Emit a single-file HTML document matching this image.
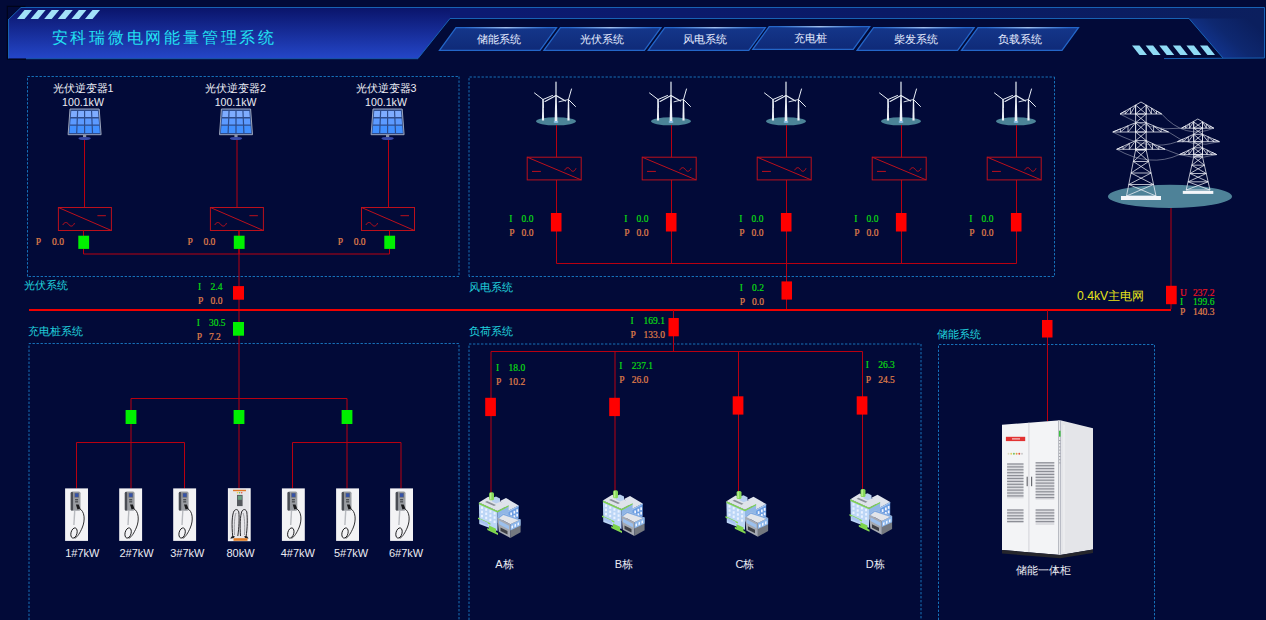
<!DOCTYPE html>
<html><head><meta charset="utf-8">
<style>
html,body{margin:0;padding:0;background:#020a38;width:1266px;height:620px;overflow:hidden}
svg{display:block;position:absolute;left:0;top:0}
text{font-family:"Liberation Sans",sans-serif}
.s{font-family:"Liberation Serif",serif}
.lbl{fill:#ececf4;font-size:11px}
.sys{fill:#20d2de;font-size:10.7px}
.g{fill:#0cdc12;stroke:#0cdc12;stroke-width:0.2}
.o{fill:#e0804a;stroke:#e0804a;stroke-width:0.2}
.r{fill:#ec1420;stroke:#ec1420;stroke-width:0.2}
.ln{stroke:#b80010;stroke-width:1;fill:none}
.box{stroke:#bc101c;stroke-width:1;fill:none}
.dash{stroke:#1670b8;stroke-width:1;fill:none;stroke-dasharray:2.4 1.6}
.brk{fill:#ff0000}
.grn{fill:#00f000}
</style></head>
<body>
<svg width="1266" height="620" viewBox="0 0 1266 620">
<defs>
<linearGradient id="hdrL" x1="0" y1="0" x2="0" y2="1">
<stop offset="0" stop-color="#0a146a"/><stop offset="1" stop-color="#2446c8"/>
</linearGradient>
<linearGradient id="band" x1="0" y1="0" x2="1" y2="0">
<stop offset="0" stop-color="#0c1874"/><stop offset="0.36" stop-color="#0c1a72"/><stop offset="0.7" stop-color="#0a1a66"/><stop offset="1" stop-color="#0b1f5e"/>
</linearGradient>
<linearGradient id="hdrR" gradientUnits="userSpaceOnUse" x1="1205" y1="60" x2="1245" y2="16">
<stop offset="0" stop-color="#143a9e"/><stop offset="0.55" stop-color="#0e2870"/><stop offset="1" stop-color="#0b1f5e"/>
</linearGradient>
<linearGradient id="tab" x1="0" y1="0" x2="0" y2="1">
<stop offset="0" stop-color="#14368a"/><stop offset="1" stop-color="#0f2a78"/>
</linearGradient>
<linearGradient id="glint" x1="0" y1="0" x2="1" y2="0">
<stop offset="0" stop-color="#8ab8f0" stop-opacity="0"/><stop offset="0.5" stop-color="#c8dcf8" stop-opacity="0.85"/><stop offset="1" stop-color="#8ab8f0" stop-opacity="0"/>
</linearGradient>
</defs>

<path d="M450 18.5 L1189 18.5 L1223 58 L1265 58 L1265 7.5 L21 7.5 Z" fill="url(#band)"/>
<path d="M1189 18.5 L1223 58 L1265 58 L1265 18.5 Z" fill="url(#hdrR)"/>
<path d="M8 20 L21 7.5 L450 7.5 L450 18.5 L418 58.5 L8 58.5 Z" fill="url(#hdrL)"/>
<path d="M8 20 L21 7.5 L1264.5 7.5 L1264.5 58 L1164 58.6" stroke="#1862b4" stroke-width="1" fill="none"/>
<path d="M7.3 59.3 L7.3 6.4 L25.5 6.4 M7.3 59.3 L26 59.3" stroke="#000418" stroke-width="1.1" fill="none"/>
<path d="M8.6 20 L8.6 58.3" stroke="#1a66b4" stroke-width="1" fill="none"/>
<path d="M418 58.5 L450 18.5 L1189 18.5 L1223 58" stroke="#1862b4" stroke-width="1" fill="none"/>
<path d="M26 58.7 L418 58.7" stroke="#1a5cb0" stroke-width="1" fill="none"/>
<g fill="#a2e2f8"><path d="M17.0 19 L24.5 19 L32.0 10 L24.5 10Z"/><path d="M30.6 19 L38.1 19 L45.6 10 L38.1 10Z"/><path d="M44.2 19 L51.7 19 L59.2 10 L51.7 10Z"/><path d="M57.8 19 L65.3 19 L72.8 10 L65.3 10Z"/><path d="M71.4 19 L78.9 19 L86.4 10 L78.9 10Z"/><path d="M85.0 19 L92.5 19 L100.0 10 L92.5 10Z"/></g><g fill="#8fdcf6"><path d="M1132.0 45.5 L1139.5 45.5 L1147.0 55 L1139.5 55Z"/><path d="M1145.6 45.5 L1153.1 45.5 L1160.6 55 L1153.1 55Z"/><path d="M1159.2 45.5 L1166.7 45.5 L1174.2 55 L1166.7 55Z"/><path d="M1172.8 45.5 L1180.3 45.5 L1187.8 55 L1180.3 55Z"/><path d="M1186.4 45.5 L1193.9 45.5 L1201.4 55 L1193.9 55Z"/><path d="M1200.0 45.5 L1207.5 45.5 L1215.0 55 L1207.5 55Z"/></g>
<text x="51.5" y="43" font-size="16.3" fill="#22e2f2" letter-spacing="2.78" style="font-family:'Liberation Serif',serif">安科瑞微电网能量管理系统</text>
<g stroke="#2466c8" stroke-width="1.3" fill="url(#tab)"><path d="M456.0 27.7 L556.5 27.7 L540.0 50.4 L439.5 50.4Z"/><path d="M560.4 27.7 L660.9 27.7 L644.4 50.4 L543.9 50.4Z"/><path d="M664.8 27.7 L765.3 27.7 L748.8 50.4 L648.3 50.4Z"/><path d="M769.2 26.7 L869.7 26.7 L853.2 49.4 L752.7 49.4Z"/><path d="M873.6 27.7 L974.1 27.7 L957.6 50.4 L857.1 50.4Z"/><path d="M978.0 27.7 L1078.5 27.7 L1062.0 50.4 L961.5 50.4Z"/></g><g fill="url(#glint)"><rect x="464.0" y="27.1" width="84" height="1.3"/><rect x="568.4" y="27.1" width="84" height="1.3"/><rect x="672.8" y="27.1" width="84" height="1.3"/><rect x="777.2" y="26.1" width="84" height="1.3"/><rect x="881.6" y="27.1" width="84" height="1.3"/><rect x="986.0" y="27.1" width="84" height="1.3"/></g><g font-size="11" fill="#e6ecff" text-anchor="middle"><text x="498.8" y="43">储能系统</text><text x="601.8" y="43">光伏系统</text><text x="705.4" y="43">风电系统</text><text x="810.2" y="42">充电桩</text><text x="915.8" y="43">柴发系统</text><text x="1020.0" y="43">负载系统</text></g>
<path class="dash" d="M27.5 276.5 L27.5 76.5 L459 76.5 M459 76.5 L459 276.5 L27.5 276.5"/>
<path class="dash" d="M469 276.5 L469 77 L1054.5 77 M1054.5 77 L1054.5 276.5 L469 276.5"/>
<path class="dash" d="M29 640 L29 343.5 L459 343.5 L459 640"/>
<path class="dash" d="M469 640 L469 344 L921 344 L921 640"/>
<path class="dash" d="M938.5 640 L938.5 344.5 L1154.5 344.5 L1154.5 640"/>
<path class="ln" d="M239 230.5 L239 398.5"/>
<text class="lbl" x="83" y="91.8" text-anchor="middle" style="font-size:10.7px">光伏逆变器1</text><text class="lbl" x="83" y="105.5" text-anchor="middle" style="font-size:10.6px">100.1kW</text><g><path d="M70.00 109 L99.20 109 L101.10 134.7 L68.10 134.7Z" fill="#2e4c8c" stroke="#aab2c4" stroke-width="0.9" stroke-linejoin="round"/><path d="M71.30 111.0 L77.05 111.0 L76.79 117.0 L70.78 117.0Z" fill="#7eacff"/><path d="M78.25 111.0 L84.00 111.0 L84.00 117.0 L77.99 117.0Z" fill="#7eacff"/><path d="M85.20 111.0 L90.95 111.0 L91.21 117.0 L85.20 117.0Z" fill="#7eacff"/><path d="M92.15 111.0 L97.90 111.0 L98.42 117.0 L92.41 117.0Z" fill="#7eacff"/><path d="M70.65 118.6 L76.72 118.6 L76.47 124.6 L70.13 124.6Z" fill="#5c9aff"/><path d="M77.92 118.6 L84.00 118.6 L84.00 124.6 L77.67 124.6Z" fill="#5c9aff"/><path d="M85.20 118.6 L91.28 118.6 L91.53 124.6 L85.20 124.6Z" fill="#5c9aff"/><path d="M92.48 118.6 L98.55 118.6 L99.07 124.6 L92.73 124.6Z" fill="#5c9aff"/><path d="M70.03 125.8 L76.41 125.8 L76.10 133.1 L69.40 133.1Z" fill="#4290ff"/><path d="M77.61 125.8 L84.00 125.8 L84.00 133.1 L77.30 133.1Z" fill="#4290ff"/><path d="M85.20 125.8 L91.59 125.8 L91.90 133.1 L85.20 133.1Z" fill="#4290ff"/><path d="M92.79 125.8 L99.17 125.8 L99.80 133.1 L93.10 133.1Z" fill="#4290ff"/><rect x="83.00" y="134.8" width="3.2" height="2.4" fill="#8a94aa"/><ellipse cx="84.60" cy="138.5" rx="6.2" ry="1.6" fill="#3a4aa8"/></g><path class="ln" d="M84.5 140 L84.5 207.5"/><rect class="box" x="58.400000000000006" y="207.5" width="53" height="23"/><path class="box" d="M58.400000000000006 207.5 L111.4 230.5"/><path class="box" d="M97.4 215.7 L105.9 215.7"/><path class="box" d="M62.800000000000004 225.0 C64.4 221.8 66.9 221.8 68.60000000000001 224.3 S72.9 226.9 74.5 223.1"/><path class="ln" d="M83.5 230.5 L83.5 254"/><rect class="grn" x="78.3" y="235.7" width="10.8" height="13.2"/><text class="s o" x="35.8" y="245" font-size="9.5">P</text><text class="s o" x="52" y="245" font-size="9.5">0.0</text><text class="lbl" x="235.6" y="91.8" text-anchor="middle" style="font-size:10.7px">光伏逆变器2</text><text class="lbl" x="235.6" y="105.5" text-anchor="middle" style="font-size:10.6px">100.1kW</text><g><path d="M221.40 109 L250.60 109 L252.50 134.7 L219.50 134.7Z" fill="#2e4c8c" stroke="#aab2c4" stroke-width="0.9" stroke-linejoin="round"/><path d="M222.70 111.0 L228.45 111.0 L228.19 117.0 L222.18 117.0Z" fill="#7eacff"/><path d="M229.65 111.0 L235.40 111.0 L235.40 117.0 L229.39 117.0Z" fill="#7eacff"/><path d="M236.60 111.0 L242.35 111.0 L242.61 117.0 L236.60 117.0Z" fill="#7eacff"/><path d="M243.55 111.0 L249.30 111.0 L249.82 117.0 L243.81 117.0Z" fill="#7eacff"/><path d="M222.05 118.6 L228.12 118.6 L227.87 124.6 L221.53 124.6Z" fill="#5c9aff"/><path d="M229.32 118.6 L235.40 118.6 L235.40 124.6 L229.07 124.6Z" fill="#5c9aff"/><path d="M236.60 118.6 L242.68 118.6 L242.93 124.6 L236.60 124.6Z" fill="#5c9aff"/><path d="M243.88 118.6 L249.95 118.6 L250.47 124.6 L244.13 124.6Z" fill="#5c9aff"/><path d="M221.43 125.8 L227.81 125.8 L227.50 133.1 L220.80 133.1Z" fill="#4290ff"/><path d="M229.01 125.8 L235.40 125.8 L235.40 133.1 L228.70 133.1Z" fill="#4290ff"/><path d="M236.60 125.8 L242.99 125.8 L243.30 133.1 L236.60 133.1Z" fill="#4290ff"/><path d="M244.19 125.8 L250.57 125.8 L251.20 133.1 L244.50 133.1Z" fill="#4290ff"/><rect x="234.40" y="134.8" width="3.2" height="2.4" fill="#8a94aa"/><ellipse cx="236.00" cy="138.5" rx="6.2" ry="1.6" fill="#3a4aa8"/></g><path class="ln" d="M237 140 L237 207.5"/><rect class="box" x="210.4" y="207.5" width="53" height="23"/><path class="box" d="M210.4 207.5 L263.4 230.5"/><path class="box" d="M249.4 215.7 L257.9 215.7"/><path class="box" d="M214.8 225.0 C216.4 221.8 218.9 221.8 220.6 224.3 S224.9 226.9 226.5 223.1"/><path class="ln" d="M239 230.5 L239 254"/><rect class="grn" x="233.8" y="235.7" width="10.8" height="13.2"/><text class="s o" x="187.5" y="245" font-size="9.5">P</text><text class="s o" x="203.4" y="245" font-size="9.5">0.0</text><text class="lbl" x="386" y="91.8" text-anchor="middle" style="font-size:10.7px">光伏逆变器3</text><text class="lbl" x="386" y="105.5" text-anchor="middle" style="font-size:10.6px">100.1kW</text><g><path d="M373.00 109 L402.20 109 L404.10 134.7 L371.10 134.7Z" fill="#2e4c8c" stroke="#aab2c4" stroke-width="0.9" stroke-linejoin="round"/><path d="M374.30 111.0 L380.05 111.0 L379.79 117.0 L373.78 117.0Z" fill="#7eacff"/><path d="M381.25 111.0 L387.00 111.0 L387.00 117.0 L380.99 117.0Z" fill="#7eacff"/><path d="M388.20 111.0 L393.95 111.0 L394.21 117.0 L388.20 117.0Z" fill="#7eacff"/><path d="M395.15 111.0 L400.90 111.0 L401.42 117.0 L395.41 117.0Z" fill="#7eacff"/><path d="M373.65 118.6 L379.72 118.6 L379.47 124.6 L373.13 124.6Z" fill="#5c9aff"/><path d="M380.92 118.6 L387.00 118.6 L387.00 124.6 L380.67 124.6Z" fill="#5c9aff"/><path d="M388.20 118.6 L394.28 118.6 L394.53 124.6 L388.20 124.6Z" fill="#5c9aff"/><path d="M395.48 118.6 L401.55 118.6 L402.07 124.6 L395.73 124.6Z" fill="#5c9aff"/><path d="M373.03 125.8 L379.41 125.8 L379.10 133.1 L372.40 133.1Z" fill="#4290ff"/><path d="M380.61 125.8 L387.00 125.8 L387.00 133.1 L380.30 133.1Z" fill="#4290ff"/><path d="M388.20 125.8 L394.59 125.8 L394.90 133.1 L388.20 133.1Z" fill="#4290ff"/><path d="M395.79 125.8 L402.17 125.8 L402.80 133.1 L396.10 133.1Z" fill="#4290ff"/><rect x="386.00" y="134.8" width="3.2" height="2.4" fill="#8a94aa"/><ellipse cx="387.60" cy="138.5" rx="6.2" ry="1.6" fill="#3a4aa8"/></g><path class="ln" d="M388.5 140 L388.5 207.5"/><rect class="box" x="361.5" y="207.5" width="53" height="23"/><path class="box" d="M361.5 207.5 L414.5 230.5"/><path class="box" d="M400.5 215.7 L409.0 215.7"/><path class="box" d="M365.9 225.0 C367.5 221.8 370.0 221.8 371.7 224.3 S376.0 226.9 377.6 223.1"/><path class="ln" d="M389.5 230.5 L389.5 254"/><rect class="grn" x="384.3" y="235.7" width="10.8" height="13.2"/><text class="s o" x="337.8" y="245" font-size="9.5">P</text><text class="s o" x="353.7" y="245" font-size="9.5">0.0</text><path class="ln" d="M83.5 254 L389.5 254"/>
<g><ellipse cx="556.0" cy="121.3" rx="20" ry="4" fill="#4b8397"/><path d="M541.9 120.5 L542.4 99.5 L543.6 99.5 L544.1 120.5Z" fill="#eef2f8"/><path d="M543.0 99.5 L534.5 93" stroke="#e8eef6" stroke-width="1.0" stroke-linecap="round"/><path d="M543.0 99.5 L552.5 95.5" stroke="#e8eef6" stroke-width="1.0" stroke-linecap="round"/><path d="M543.0 99.5 L543.5 107.5" stroke="#e8eef6" stroke-width="0.9" stroke-linecap="round"/><path d="M567.4 120.5 L567.9 99.5 L569.1 99.5 L569.6 120.5Z" fill="#eef2f8"/><path d="M568.5 99.5 L571.5 89" stroke="#e8eef6" stroke-width="1.0" stroke-linecap="round"/><path d="M568.5 99.5 L575.5 106.5" stroke="#e8eef6" stroke-width="1.0" stroke-linecap="round"/><path d="M568.5 99.5 L559.0 101.8" stroke="#e8eef6" stroke-width="0.9" stroke-linecap="round"/><path d="M554.6 122 L555.3 95.5 L556.7 95.5 L557.4 122Z" fill="#eef2f8"/><path d="M556.0 95.5 L556.0 82" stroke="#e8eef6" stroke-width="1.2" stroke-linecap="round"/><path d="M556.0 95.5 L545.0 101.5" stroke="#e8eef6" stroke-width="1.1" stroke-linecap="round"/><path d="M556.0 95.5 L565.5 101" stroke="#e8eef6" stroke-width="1.1" stroke-linecap="round"/><ellipse cx="556.0" cy="122" rx="2.5" ry="1" fill="#8ac0e8"/></g><path class="ln" d="M556.5 125 L556.5 157.2 M556.5 180 L556.5 263.5"/><rect class="box" x="527.2" y="157.2" width="54" height="22.7"/><path class="box" d="M527.2 157.2 L581.2 179.89999999999998"/><path class="box" d="M532.0 171.39999999999998 L540.9000000000001 171.39999999999998"/><path class="box" d="M564.7 170.2 C566.3000000000001 167.0 568.8000000000001 167.0 570.4000000000001 169.5 S574.4000000000001 172.1 576.0 168.29999999999998"/><rect class="brk" x="550.9" y="213" width="10.6" height="18.5"/><text class="s g" x="509.3" y="222.4" font-size="9.5">I</text><text class="s g" x="521.5" y="222.4" font-size="9.5">0.0</text><text class="s o" x="509.3" y="236.1" font-size="9.5">P</text><text class="s o" x="521.5" y="236.1" font-size="9.5">0.0</text><g><ellipse cx="671.0" cy="121.3" rx="20" ry="4" fill="#4b8397"/><path d="M656.9 120.5 L657.4 99.5 L658.6 99.5 L659.1 120.5Z" fill="#eef2f8"/><path d="M658.0 99.5 L649.5 93" stroke="#e8eef6" stroke-width="1.0" stroke-linecap="round"/><path d="M658.0 99.5 L667.5 95.5" stroke="#e8eef6" stroke-width="1.0" stroke-linecap="round"/><path d="M658.0 99.5 L658.5 107.5" stroke="#e8eef6" stroke-width="0.9" stroke-linecap="round"/><path d="M682.4 120.5 L682.9 99.5 L684.1 99.5 L684.6 120.5Z" fill="#eef2f8"/><path d="M683.5 99.5 L686.5 89" stroke="#e8eef6" stroke-width="1.0" stroke-linecap="round"/><path d="M683.5 99.5 L690.5 106.5" stroke="#e8eef6" stroke-width="1.0" stroke-linecap="round"/><path d="M683.5 99.5 L674.0 101.8" stroke="#e8eef6" stroke-width="0.9" stroke-linecap="round"/><path d="M669.6 122 L670.3 95.5 L671.7 95.5 L672.4 122Z" fill="#eef2f8"/><path d="M671.0 95.5 L671.0 82" stroke="#e8eef6" stroke-width="1.2" stroke-linecap="round"/><path d="M671.0 95.5 L660.0 101.5" stroke="#e8eef6" stroke-width="1.1" stroke-linecap="round"/><path d="M671.0 95.5 L680.5 101" stroke="#e8eef6" stroke-width="1.1" stroke-linecap="round"/><ellipse cx="671.0" cy="122" rx="2.5" ry="1" fill="#8ac0e8"/></g><path class="ln" d="M671.5 125 L671.5 157.2 M671.5 180 L671.5 263.5"/><rect class="box" x="642.2" y="157.2" width="54" height="22.7"/><path class="box" d="M642.2 157.2 L696.2 179.89999999999998"/><path class="box" d="M647.0 171.39999999999998 L655.9000000000001 171.39999999999998"/><path class="box" d="M679.7 170.2 C681.3000000000001 167.0 683.8000000000001 167.0 685.4000000000001 169.5 S689.4000000000001 172.1 691.0 168.29999999999998"/><rect class="brk" x="665.9" y="213" width="10.6" height="18.5"/><text class="s g" x="624.3" y="222.4" font-size="9.5">I</text><text class="s g" x="636.5" y="222.4" font-size="9.5">0.0</text><text class="s o" x="624.3" y="236.1" font-size="9.5">P</text><text class="s o" x="636.5" y="236.1" font-size="9.5">0.0</text><g><ellipse cx="786.0" cy="121.3" rx="20" ry="4" fill="#4b8397"/><path d="M771.9 120.5 L772.4 99.5 L773.6 99.5 L774.1 120.5Z" fill="#eef2f8"/><path d="M773.0 99.5 L764.5 93" stroke="#e8eef6" stroke-width="1.0" stroke-linecap="round"/><path d="M773.0 99.5 L782.5 95.5" stroke="#e8eef6" stroke-width="1.0" stroke-linecap="round"/><path d="M773.0 99.5 L773.5 107.5" stroke="#e8eef6" stroke-width="0.9" stroke-linecap="round"/><path d="M797.4 120.5 L797.9 99.5 L799.1 99.5 L799.6 120.5Z" fill="#eef2f8"/><path d="M798.5 99.5 L801.5 89" stroke="#e8eef6" stroke-width="1.0" stroke-linecap="round"/><path d="M798.5 99.5 L805.5 106.5" stroke="#e8eef6" stroke-width="1.0" stroke-linecap="round"/><path d="M798.5 99.5 L789.0 101.8" stroke="#e8eef6" stroke-width="0.9" stroke-linecap="round"/><path d="M784.6 122 L785.3 95.5 L786.7 95.5 L787.4 122Z" fill="#eef2f8"/><path d="M786.0 95.5 L786.0 82" stroke="#e8eef6" stroke-width="1.2" stroke-linecap="round"/><path d="M786.0 95.5 L775.0 101.5" stroke="#e8eef6" stroke-width="1.1" stroke-linecap="round"/><path d="M786.0 95.5 L795.5 101" stroke="#e8eef6" stroke-width="1.1" stroke-linecap="round"/><ellipse cx="786.0" cy="122" rx="2.5" ry="1" fill="#8ac0e8"/></g><path class="ln" d="M786.5 125 L786.5 157.2 M786.5 180 L786.5 263.5"/><rect class="box" x="757.2" y="157.2" width="54" height="22.7"/><path class="box" d="M757.2 157.2 L811.2 179.89999999999998"/><path class="box" d="M762.0 171.39999999999998 L770.9000000000001 171.39999999999998"/><path class="box" d="M794.7 170.2 C796.3000000000001 167.0 798.8000000000001 167.0 800.4000000000001 169.5 S804.4000000000001 172.1 806.0 168.29999999999998"/><rect class="brk" x="780.9" y="213" width="10.6" height="18.5"/><text class="s g" x="739.3" y="222.4" font-size="9.5">I</text><text class="s g" x="751.5" y="222.4" font-size="9.5">0.0</text><text class="s o" x="739.3" y="236.1" font-size="9.5">P</text><text class="s o" x="751.5" y="236.1" font-size="9.5">0.0</text><g><ellipse cx="901.0" cy="121.3" rx="20" ry="4" fill="#4b8397"/><path d="M886.9 120.5 L887.4 99.5 L888.6 99.5 L889.1 120.5Z" fill="#eef2f8"/><path d="M888.0 99.5 L879.5 93" stroke="#e8eef6" stroke-width="1.0" stroke-linecap="round"/><path d="M888.0 99.5 L897.5 95.5" stroke="#e8eef6" stroke-width="1.0" stroke-linecap="round"/><path d="M888.0 99.5 L888.5 107.5" stroke="#e8eef6" stroke-width="0.9" stroke-linecap="round"/><path d="M912.4 120.5 L912.9 99.5 L914.1 99.5 L914.6 120.5Z" fill="#eef2f8"/><path d="M913.5 99.5 L916.5 89" stroke="#e8eef6" stroke-width="1.0" stroke-linecap="round"/><path d="M913.5 99.5 L920.5 106.5" stroke="#e8eef6" stroke-width="1.0" stroke-linecap="round"/><path d="M913.5 99.5 L904.0 101.8" stroke="#e8eef6" stroke-width="0.9" stroke-linecap="round"/><path d="M899.6 122 L900.3 95.5 L901.7 95.5 L902.4 122Z" fill="#eef2f8"/><path d="M901.0 95.5 L901.0 82" stroke="#e8eef6" stroke-width="1.2" stroke-linecap="round"/><path d="M901.0 95.5 L890.0 101.5" stroke="#e8eef6" stroke-width="1.1" stroke-linecap="round"/><path d="M901.0 95.5 L910.5 101" stroke="#e8eef6" stroke-width="1.1" stroke-linecap="round"/><ellipse cx="901.0" cy="122" rx="2.5" ry="1" fill="#8ac0e8"/></g><path class="ln" d="M901.5 125 L901.5 157.2 M901.5 180 L901.5 263.5"/><rect class="box" x="872.2" y="157.2" width="54" height="22.7"/><path class="box" d="M872.2 157.2 L926.2 179.89999999999998"/><path class="box" d="M877.0 171.39999999999998 L885.9000000000001 171.39999999999998"/><path class="box" d="M909.7 170.2 C911.3000000000001 167.0 913.8000000000001 167.0 915.4000000000001 169.5 S919.4000000000001 172.1 921.0 168.29999999999998"/><rect class="brk" x="895.9" y="213" width="10.6" height="18.5"/><text class="s g" x="854.3" y="222.4" font-size="9.5">I</text><text class="s g" x="866.5" y="222.4" font-size="9.5">0.0</text><text class="s o" x="854.3" y="236.1" font-size="9.5">P</text><text class="s o" x="866.5" y="236.1" font-size="9.5">0.0</text><g><ellipse cx="1016.0" cy="121.3" rx="20" ry="4" fill="#4b8397"/><path d="M1001.9 120.5 L1002.4 99.5 L1003.6 99.5 L1004.1 120.5Z" fill="#eef2f8"/><path d="M1003.0 99.5 L994.5 93" stroke="#e8eef6" stroke-width="1.0" stroke-linecap="round"/><path d="M1003.0 99.5 L1012.5 95.5" stroke="#e8eef6" stroke-width="1.0" stroke-linecap="round"/><path d="M1003.0 99.5 L1003.5 107.5" stroke="#e8eef6" stroke-width="0.9" stroke-linecap="round"/><path d="M1027.4 120.5 L1027.9 99.5 L1029.1 99.5 L1029.6 120.5Z" fill="#eef2f8"/><path d="M1028.5 99.5 L1031.5 89" stroke="#e8eef6" stroke-width="1.0" stroke-linecap="round"/><path d="M1028.5 99.5 L1035.5 106.5" stroke="#e8eef6" stroke-width="1.0" stroke-linecap="round"/><path d="M1028.5 99.5 L1019.0 101.8" stroke="#e8eef6" stroke-width="0.9" stroke-linecap="round"/><path d="M1014.6 122 L1015.3 95.5 L1016.7 95.5 L1017.4 122Z" fill="#eef2f8"/><path d="M1016.0 95.5 L1016.0 82" stroke="#e8eef6" stroke-width="1.2" stroke-linecap="round"/><path d="M1016.0 95.5 L1005.0 101.5" stroke="#e8eef6" stroke-width="1.1" stroke-linecap="round"/><path d="M1016.0 95.5 L1025.5 101" stroke="#e8eef6" stroke-width="1.1" stroke-linecap="round"/><ellipse cx="1016.0" cy="122" rx="2.5" ry="1" fill="#8ac0e8"/></g><path class="ln" d="M1016.5 125 L1016.5 157.2 M1016.5 180 L1016.5 263.5"/><rect class="box" x="987.2" y="157.2" width="54" height="22.7"/><path class="box" d="M987.2 157.2 L1041.2 179.89999999999998"/><path class="box" d="M992.0 171.39999999999998 L1000.9000000000001 171.39999999999998"/><path class="box" d="M1024.7 170.2 C1026.3 167.0 1028.8 167.0 1030.4 169.5 S1034.4 172.1 1036.0 168.29999999999998"/><rect class="brk" x="1010.9" y="213" width="10.6" height="18.5"/><text class="s g" x="969.3" y="222.4" font-size="9.5">I</text><text class="s g" x="981.5" y="222.4" font-size="9.5">0.0</text><text class="s o" x="969.3" y="236.1" font-size="9.5">P</text><text class="s o" x="981.5" y="236.1" font-size="9.5">0.0</text><path class="ln" d="M556.5 263.5 L1016.5 263.5 M786.5 263.5 L786.5 310"/><rect class="brk" x="781.5" y="281.4" width="10.5" height="18.2"/><text class="s g" x="739.8" y="290.5" font-size="9.5">I</text><text class="s g" x="752" y="290.5" font-size="9.5">0.2</text><text class="s o" x="739.8" y="305" font-size="9.5">P</text><text class="s o" x="752" y="305" font-size="9.5">0.0</text>
<ellipse cx="1170" cy="196.4" rx="62" ry="11.6" fill="#4e8298"/><g stroke="#f0f2f8" fill="none" stroke-width="0.75" stroke-linejoin="round"><path d="M1135.6 105 L1135.6 150 L1126.5 196 M1146.2 105 L1146.2 150 L1156 196 M1120 114 L1141 102 L1161.7 114 Z M1112.8 132 L1135.6 122.7 M1146.2 122.7 L1168.5 132 M1112.8 132 L1168.5 132 M1116.7 149.3 L1135.6 140.6 M1146.2 140.6 L1165.1 149.3 M1116.7 149.3 L1165.1 149.3 M1120.0 114.0 L1125.2 111.0 M1125.2 111.0 L1125.2 114.0 M1125.2 114.0 L1130.4 108.1 M1130.4 108.1 L1130.4 114.0 M1130.4 114.0 L1135.6 105.1 M1135.6 105.1 L1135.6 114.0 M1161.7 114.0 L1156.5 111.0 M1156.5 111.0 L1156.5 114.0 M1156.5 114.0 L1151.4 108.0 M1151.4 108.0 L1151.4 114.0 M1151.4 114.0 L1146.2 105.0 M1146.2 105.0 L1146.2 114.0 M1112.8 132.0 L1120.4 128.9 M1120.4 128.9 L1120.4 132.0 M1120.4 132.0 L1128.0 125.8 M1128.0 125.8 L1128.0 132.0 M1128.0 132.0 L1135.6 122.7 M1135.6 122.7 L1135.6 132.0 M1168.5 132.0 L1161.1 128.9 M1161.1 128.9 L1161.1 132.0 M1161.1 132.0 L1153.6 125.8 M1153.6 125.8 L1153.6 132.0 M1153.6 132.0 L1146.2 122.7 M1146.2 122.7 L1146.2 132.0 M1116.7 149.3 L1123.0 146.4 M1123.0 146.4 L1123.0 149.3 M1123.0 149.3 L1129.3 143.5 M1129.3 143.5 L1129.3 149.3 M1129.3 149.3 L1135.6 140.6 M1135.6 140.6 L1135.6 149.3 M1165.1 149.3 L1158.8 146.4 M1158.8 146.4 L1158.8 149.3 M1158.8 149.3 L1152.5 143.5 M1152.5 143.5 L1152.5 149.3 M1152.5 149.3 L1146.2 140.6 M1146.2 140.6 L1146.2 149.3 M1135.6 105 L1146.2 114 M1146.2 105 L1135.6 114 M1135.6 114 L1146.2 114 M1135.6 114 L1146.2 122.7 M1146.2 114 L1135.6 122.7 M1135.6 122.7 L1146.2 122.7 M1135.6 122.7 L1146.2 132 M1146.2 122.7 L1135.6 132 M1135.6 132 L1146.2 132 M1135.6 132 L1146.2 140.6 M1146.2 132 L1135.6 140.6 M1135.6 140.6 L1146.2 140.6 M1135.6 140.6 L1146.2 149.3 M1146.2 140.6 L1135.6 149.3 M1135.6 149.3 L1146.2 149.3 M1135.6 149.3 L1146.2 150 M1146.2 149.3 L1135.6 150 M1135.6 150 L1146.2 150 M1135.6 150.0 L1148.7 161.5 M1146.2 150.0 L1133.3 161.5 M1133.3 161.5 L1148.7 161.5 M1133.3 161.5 L1151.1 173.0 M1148.7 161.5 L1131.0 173.0 M1131.0 173.0 L1151.1 173.0 M1131.0 173.0 L1153.5 184.5 M1151.1 173.0 L1128.8 184.5 M1128.8 184.5 L1153.5 184.5 M1128.8 184.5 L1156.0 196.0 M1153.5 184.5 L1126.5 196.0 M1126.5 196.0 L1156.0 196.0"/><path d="M1193.7 122 L1193.7 157 L1186.2 190 M1202.5 122 L1202.5 157 L1210 190 M1181.5 128.2 L1197.8 119 L1213.8 128.2 Z M1177.4 141.7 L1193.7 134.3 M1202.5 134.3 L1219.4 141.7 M1177.4 141.7 L1219.4 141.7 M1179.4 154.6 L1193.7 147.8 M1202.5 147.8 L1216.7 154.6 M1179.4 154.6 L1216.7 154.6 M1181.5 128.2 L1185.6 125.9 M1185.6 125.9 L1185.6 128.2 M1185.6 128.2 L1189.6 123.6 M1189.6 123.6 L1189.6 128.2 M1189.6 128.2 L1193.7 121.3 M1193.7 121.3 L1193.7 128.2 M1213.8 128.2 L1210.0 126.0 M1210.0 126.0 L1210.0 128.2 M1210.0 128.2 L1206.3 123.9 M1206.3 123.9 L1206.3 128.2 M1206.3 128.2 L1202.5 121.7 M1202.5 121.7 L1202.5 128.2 M1177.4 141.7 L1182.8 139.2 M1182.8 139.2 L1182.8 141.7 M1182.8 141.7 L1188.3 136.8 M1188.3 136.8 L1188.3 141.7 M1188.3 141.7 L1193.7 134.3 M1193.7 134.3 L1193.7 141.7 M1219.4 141.7 L1213.8 139.2 M1213.8 139.2 L1213.8 141.7 M1213.8 141.7 L1208.1 136.8 M1208.1 136.8 L1208.1 141.7 M1208.1 141.7 L1202.5 134.3 M1202.5 134.3 L1202.5 141.7 M1179.4 154.6 L1184.2 152.3 M1184.2 152.3 L1184.2 154.6 M1184.2 154.6 L1188.9 150.1 M1188.9 150.1 L1188.9 154.6 M1188.9 154.6 L1193.7 147.8 M1193.7 147.8 L1193.7 154.6 M1216.7 154.6 L1212.0 152.3 M1212.0 152.3 L1212.0 154.6 M1212.0 154.6 L1207.2 150.1 M1207.2 150.1 L1207.2 154.6 M1207.2 154.6 L1202.5 147.8 M1202.5 147.8 L1202.5 154.6 M1193.7 122 L1202.5 128.2 M1202.5 122 L1193.7 128.2 M1193.7 128.2 L1202.5 128.2 M1193.7 128.2 L1202.5 134.3 M1202.5 128.2 L1193.7 134.3 M1193.7 134.3 L1202.5 134.3 M1193.7 134.3 L1202.5 141.7 M1202.5 134.3 L1193.7 141.7 M1193.7 141.7 L1202.5 141.7 M1193.7 141.7 L1202.5 147.8 M1202.5 141.7 L1193.7 147.8 M1193.7 147.8 L1202.5 147.8 M1193.7 147.8 L1202.5 154.6 M1202.5 147.8 L1193.7 154.6 M1193.7 154.6 L1202.5 154.6 M1193.7 154.6 L1202.5 157 M1202.5 154.6 L1193.7 157 M1193.7 157 L1202.5 157 M1193.7 157.0 L1204.4 165.2 M1202.5 157.0 L1191.8 165.2 M1191.8 165.2 L1204.4 165.2 M1191.8 165.2 L1206.2 173.5 M1204.4 165.2 L1190.0 173.5 M1190.0 173.5 L1206.2 173.5 M1190.0 173.5 L1208.1 181.8 M1206.2 173.5 L1188.1 181.8 M1188.1 181.8 L1208.1 181.8 M1188.1 181.8 L1210.0 190.0 M1208.1 181.8 L1186.2 190.0 M1186.2 190.0 L1210.0 190.0"/></g><g stroke="#c8ccd8" stroke-width="0.55" fill="none" opacity="0.85"><path d="M1161.7 114 Q1185 140 1213.8 128.2"/><path d="M1120 114 Q1150 132 1181.5 128.2"/><path d="M1168.5 132 Q1192 150 1219.4 141.7"/><path d="M1112.8 132 Q1150 152 1177.4 141.7"/><path d="M1165.1 149.3 Q1192 162 1216.7 154.6"/><path d="M1116.7 149.3 Q1150 168 1179.4 154.6"/></g><rect x="1121" y="196" width="40" height="4" fill="#f4f6fa"/><rect x="1182.8" y="190.9" width="30.5" height="3" fill="#f4f6fa"/><path class="ln" d="M1171 208 L1171 309"/>
<path d="M29 310 L1171 310" stroke="#f00000" stroke-width="2" fill="none"/>
<rect class="brk" x="1166" y="285.8" width="10.7" height="18.4"/>
<text x="1077" y="300" font-size="12.2" fill="#e6e218">0.4kV主电网</text>
<text class="s r" x="1180" y="296" font-size="9.5">U</text><text class="s r" x="1193" y="296" font-size="9.5">237.2</text>
<text class="s g" x="1180" y="305.2" font-size="9.5">I</text><text class="s g" x="1193" y="305.2" font-size="9.5">199.6</text>
<text class="s o" x="1180" y="315" font-size="9.5">P</text><text class="s o" x="1193" y="315" font-size="9.5">140.3</text>
<rect class="brk" x="233" y="286.1" width="11" height="13.6"/>
<text class="s g" x="197.9" y="289.9" font-size="9.5">I</text><text class="s g" x="210.5" y="289.9" font-size="9.5">2.4</text><text class="s o" x="197.9" y="303.7" font-size="9.5">P</text><text class="s o" x="210.5" y="303.7" font-size="9.5">0.0</text>
<rect class="grn" x="233" y="322" width="11" height="13.7"/>
<text class="s g" x="196.8" y="325.7" font-size="9.5">I</text><text class="s g" x="208.9" y="325.7" font-size="9.5">30.5</text><text class="s o" x="196.8" y="339.9" font-size="9.5">P</text><text class="s o" x="208.9" y="339.9" font-size="9.5">7.2</text>
<text class="sys" x="23.6" y="288.9">光伏系统</text>
<text class="sys" x="468.6" y="291">风电系统</text>
<text class="sys" x="27.6" y="335">充电桩系统</text>
<text class="sys" x="468.8" y="335.4">负荷系统</text>
<text class="sys" x="937" y="337.5">储能系统</text>
<path class="ln" d="M131 398.5 L347 398.5"/><path class="ln" d="M131 398.5 L131 488.4"/><path class="ln" d="M347 398.5 L347 488.4"/><path class="ln" d="M239 398.5 L239 488.4"/><path class="ln" d="M76.5 442.5 L184.5 442.5 M292.5 442.5 L401 442.5"/><path class="ln" d="M76.5 442.5 L76.5 488.4"/><path class="ln" d="M184.5 442.5 L184.5 488.4"/><path class="ln" d="M292.5 442.5 L292.5 488.4"/><path class="ln" d="M401 442.5 L401 488.4"/><rect class="grn" x="125.6" y="410" width="10.8" height="14"/><rect class="grn" x="233.6" y="410" width="10.8" height="14"/><rect class="grn" x="341.6" y="410" width="10.8" height="14"/><rect x="65.1" y="488.4" width="22.9" height="52.5" fill="#f3f3f5"/><rect x="70.69999999999999" y="491.6" width="9.8" height="19.2" rx="1.6" fill="#9a9da2"/><rect x="70.69999999999999" y="492" width="2.4" height="18.4" rx="1" fill="#4a4d54"/><rect x="74.39999999999999" y="492.8" width="4.6" height="4.8" fill="#6a6d74"/><rect x="75.0" y="493.4" width="3.4" height="3.5" fill="#3452a8"/><rect x="75.1" y="499.2" width="3" height="1.1" fill="#3a3c40"/><rect x="75.1" y="501.3" width="3" height="1.1" fill="#3a3c40"/><path d="M75.89999999999999 504.5 L78.69999999999999 504.5 L80.3 508.5 L77.5 509.6Z" fill="#1a1a1c"/><path d="M74.69999999999999 511 L73.89999999999999 525" stroke="#b8babf" stroke-width="1.4"/><path d="M79.3 508.5 C84.6 511 85.6 520 82.1 528 C80.1 532.5 77.6 537 74.69999999999999 538.3" stroke="#1a1a1c" stroke-width="0.9" fill="none"/><ellipse cx="74.0" cy="533" rx="3" ry="5.2" transform="rotate(15 74.0 533)" stroke="#1a1a1c" stroke-width="0.9" fill="none"/><rect x="119.2" y="488.4" width="22.9" height="52.5" fill="#f3f3f5"/><rect x="124.8" y="491.6" width="9.8" height="19.2" rx="1.6" fill="#9a9da2"/><rect x="124.8" y="492" width="2.4" height="18.4" rx="1" fill="#4a4d54"/><rect x="128.5" y="492.8" width="4.6" height="4.8" fill="#6a6d74"/><rect x="129.1" y="493.4" width="3.4" height="3.5" fill="#3452a8"/><rect x="129.2" y="499.2" width="3" height="1.1" fill="#3a3c40"/><rect x="129.2" y="501.3" width="3" height="1.1" fill="#3a3c40"/><path d="M130.0 504.5 L132.8 504.5 L134.4 508.5 L131.6 509.6Z" fill="#1a1a1c"/><path d="M128.8 511 L128.0 525" stroke="#b8babf" stroke-width="1.4"/><path d="M133.4 508.5 C138.7 511 139.7 520 136.2 528 C134.2 532.5 131.7 537 128.8 538.3" stroke="#1a1a1c" stroke-width="0.9" fill="none"/><ellipse cx="128.1" cy="533" rx="3" ry="5.2" transform="rotate(15 128.1 533)" stroke="#1a1a1c" stroke-width="0.9" fill="none"/><rect x="173.2" y="488.4" width="22.9" height="52.5" fill="#f3f3f5"/><rect x="178.79999999999998" y="491.6" width="9.8" height="19.2" rx="1.6" fill="#9a9da2"/><rect x="178.79999999999998" y="492" width="2.4" height="18.4" rx="1" fill="#4a4d54"/><rect x="182.5" y="492.8" width="4.6" height="4.8" fill="#6a6d74"/><rect x="183.1" y="493.4" width="3.4" height="3.5" fill="#3452a8"/><rect x="183.2" y="499.2" width="3" height="1.1" fill="#3a3c40"/><rect x="183.2" y="501.3" width="3" height="1.1" fill="#3a3c40"/><path d="M184.0 504.5 L186.79999999999998 504.5 L188.39999999999998 508.5 L185.6 509.6Z" fill="#1a1a1c"/><path d="M182.79999999999998 511 L182.0 525" stroke="#b8babf" stroke-width="1.4"/><path d="M187.39999999999998 508.5 C192.7 511 193.7 520 190.2 528 C188.2 532.5 185.7 537 182.79999999999998 538.3" stroke="#1a1a1c" stroke-width="0.9" fill="none"/><ellipse cx="182.1" cy="533" rx="3" ry="5.2" transform="rotate(15 182.1 533)" stroke="#1a1a1c" stroke-width="0.9" fill="none"/><rect x="281.9" y="488.4" width="22.9" height="52.5" fill="#f3f3f5"/><rect x="287.5" y="491.6" width="9.8" height="19.2" rx="1.6" fill="#9a9da2"/><rect x="287.5" y="492" width="2.4" height="18.4" rx="1" fill="#4a4d54"/><rect x="291.2" y="492.8" width="4.6" height="4.8" fill="#6a6d74"/><rect x="291.79999999999995" y="493.4" width="3.4" height="3.5" fill="#3452a8"/><rect x="291.9" y="499.2" width="3" height="1.1" fill="#3a3c40"/><rect x="291.9" y="501.3" width="3" height="1.1" fill="#3a3c40"/><path d="M292.7 504.5 L295.5 504.5 L297.09999999999997 508.5 L294.29999999999995 509.6Z" fill="#1a1a1c"/><path d="M291.5 511 L290.7 525" stroke="#b8babf" stroke-width="1.4"/><path d="M296.09999999999997 508.5 C301.4 511 302.4 520 298.9 528 C296.9 532.5 294.4 537 291.5 538.3" stroke="#1a1a1c" stroke-width="0.9" fill="none"/><ellipse cx="290.79999999999995" cy="533" rx="3" ry="5.2" transform="rotate(15 290.79999999999995 533)" stroke="#1a1a1c" stroke-width="0.9" fill="none"/><rect x="336.1" y="488.4" width="22.9" height="52.5" fill="#f3f3f5"/><rect x="341.70000000000005" y="491.6" width="9.8" height="19.2" rx="1.6" fill="#9a9da2"/><rect x="341.70000000000005" y="492" width="2.4" height="18.4" rx="1" fill="#4a4d54"/><rect x="345.40000000000003" y="492.8" width="4.6" height="4.8" fill="#6a6d74"/><rect x="346.0" y="493.4" width="3.4" height="3.5" fill="#3452a8"/><rect x="346.1" y="499.2" width="3" height="1.1" fill="#3a3c40"/><rect x="346.1" y="501.3" width="3" height="1.1" fill="#3a3c40"/><path d="M346.90000000000003 504.5 L349.70000000000005 504.5 L351.3 508.5 L348.5 509.6Z" fill="#1a1a1c"/><path d="M345.70000000000005 511 L344.90000000000003 525" stroke="#b8babf" stroke-width="1.4"/><path d="M350.3 508.5 C355.6 511 356.6 520 353.1 528 C351.1 532.5 348.6 537 345.70000000000005 538.3" stroke="#1a1a1c" stroke-width="0.9" fill="none"/><ellipse cx="345.0" cy="533" rx="3" ry="5.2" transform="rotate(15 345.0 533)" stroke="#1a1a1c" stroke-width="0.9" fill="none"/><rect x="390.1" y="488.4" width="22.9" height="52.5" fill="#f3f3f5"/><rect x="395.70000000000005" y="491.6" width="9.8" height="19.2" rx="1.6" fill="#9a9da2"/><rect x="395.70000000000005" y="492" width="2.4" height="18.4" rx="1" fill="#4a4d54"/><rect x="399.40000000000003" y="492.8" width="4.6" height="4.8" fill="#6a6d74"/><rect x="400.0" y="493.4" width="3.4" height="3.5" fill="#3452a8"/><rect x="400.1" y="499.2" width="3" height="1.1" fill="#3a3c40"/><rect x="400.1" y="501.3" width="3" height="1.1" fill="#3a3c40"/><path d="M400.90000000000003 504.5 L403.70000000000005 504.5 L405.3 508.5 L402.5 509.6Z" fill="#1a1a1c"/><path d="M399.70000000000005 511 L398.90000000000003 525" stroke="#b8babf" stroke-width="1.4"/><path d="M404.3 508.5 C409.6 511 410.6 520 407.1 528 C405.1 532.5 402.6 537 399.70000000000005 538.3" stroke="#1a1a1c" stroke-width="0.9" fill="none"/><ellipse cx="399.0" cy="533" rx="3" ry="5.2" transform="rotate(15 399.0 533)" stroke="#1a1a1c" stroke-width="0.9" fill="none"/><rect x="227.9" y="488.2" width="22.8" height="53" fill="#f2f2f4"/><rect x="229.5" y="489.2" width="19.5" height="50" fill="#e6e6ea"/><rect x="233" y="489.8" width="13" height="1.4" fill="#e0782a"/><circle cx="237.5" cy="492.8" r="0.8" fill="#e8d040"/><circle cx="239.6" cy="492.8" r="0.8" fill="#60c050"/><circle cx="241.7" cy="492.8" r="0.8" fill="#e05040"/><rect x="237" y="494.9" width="5.6" height="11.2" fill="#55585e"/><rect x="237.8" y="495.8" width="4" height="4" fill="#6aa080"/><path d="M232.8 537 C231.5 525 232 515 234 511 C236 508.5 238 509.5 238.8 512 C239.5 518 239 528 237.8 536" stroke="#2a2a2e" stroke-width="1" fill="none"/><path d="M240.5 536 C239.8 526 240 516 242 511 C244 508.5 246 509.5 246.8 512 C247.5 518 247.5 528 246 537" stroke="#2a2a2e" stroke-width="1" fill="none"/><path d="M234.5 535 C234 525 234.5 516 236 513 M244.5 535 C245 525 244.5 516 243 513" stroke="#8a8c90" stroke-width="0.8" fill="none"/><path d="M230.3 538.5 Q232 535 235 536.5 Q234 539 230.3 538.5Z M248.5 538.5 Q247 535 244 536.5 Q245 539 248.5 538.5Z" fill="#1e1e22"/><rect x="233.5" y="538.2" width="14" height="2.6" fill="#de7a24"/><text class="lbl" x="65.2" y="557">1#7kW</text><text class="lbl" x="119.4" y="557">2#7kW</text><text class="lbl" x="170.2" y="557">3#7kW</text><text class="lbl" x="226.5" y="557">80kW</text><text class="lbl" x="280.7" y="557">4#7kW</text><text class="lbl" x="334" y="557">5#7kW</text><text class="lbl" x="389" y="557">6#7kW</text>
<path class="ln" d="M673.5 310 L673.5 351.5 M491 351.5 L862.5 351.5"/><rect class="brk" x="668.5" y="318" width="10.3" height="18.3"/><text class="s g" x="630.6" y="324" font-size="9.5">I</text><text class="s g" x="643.5" y="324" font-size="9.5">169.1</text><text class="s o" x="630.6" y="338.3" font-size="9.5">P</text><text class="s o" x="643.5" y="338.3" font-size="9.5">133.0</text><path class="ln" d="M491 351.5 L491 493.0"/><rect class="brk" x="485.2" y="397.8" width="10.7" height="18.3"/><g transform="translate(474,487.0)"><path d="M34 24 L44.7 18.4 L44.7 31 L34 36.5Z" fill="#6c9ee2"/><path d="M26 14 L32 11 L44.7 18.4 L34 24Z" fill="#dfe4ec"/><path d="M34 24 L44.7 18.4 L44.7 19.6 L34 25.2Z" fill="#a8c8f0"/><rect x="36.3" y="25.5" width="1.7" height="2.8" fill="#f0f4ff"/><rect x="39.5" y="23.8" width="1.7" height="2.8" fill="#f0f4ff"/><rect x="42.3" y="22.3" width="1.7" height="2.8" fill="#f0f4ff"/><rect x="36.3" y="30" width="1.7" height="2.8" fill="#f0f4ff"/><rect x="39.5" y="28.3" width="1.7" height="2.8" fill="#f0f4ff"/><rect x="42.3" y="26.8" width="1.7" height="2.8" fill="#f0f4ff"/><path d="M4.9 15.5 L23.5 24 L23.5 44 L5.3 37Z" fill="#bcd6f6"/><path d="M23.5 24 L34.6 18.2 L34.6 30 L23.5 36Z" fill="#90b6e6"/><path d="M4.9 15.5 L14.2 9.8 L34.6 18.2 L23.5 24Z" fill="#dfe3ea"/><path d="M4.9 15.5 L23.5 24 L34.6 18.2 L34.6 19.6 L23.5 25.6 L4.9 17.2Z" fill="#7ed24e"/><path d="M11 15 L13 14 L22 18 L20 19Z" fill="#8a9099"/><path d="M18 11 L22 9.5 L26 11.5 L26 15 L22 16.5 L18 14.5Z" fill="#b8d0f0"/><rect x="7.0" y="19.5" width="2" height="2.4" fill="#eaf2ff"/><rect x="11.2" y="21.4" width="2" height="2.4" fill="#eaf2ff"/><rect x="15.4" y="23.3" width="2" height="2.4" fill="#eaf2ff"/><rect x="19.6" y="25.2" width="2" height="2.4" fill="#eaf2ff"/><rect x="7.0" y="23.7" width="2" height="2.4" fill="#eaf2ff"/><rect x="11.2" y="25.6" width="2" height="2.4" fill="#eaf2ff"/><rect x="15.4" y="27.5" width="2" height="2.4" fill="#eaf2ff"/><rect x="19.6" y="29.4" width="2" height="2.4" fill="#eaf2ff"/><rect x="7.0" y="27.9" width="2" height="2.4" fill="#eaf2ff"/><rect x="11.2" y="29.8" width="2" height="2.4" fill="#eaf2ff"/><rect x="15.4" y="31.7" width="2" height="2.4" fill="#eaf2ff"/><rect x="19.6" y="33.6" width="2" height="2.4" fill="#eaf2ff"/><path d="M4 30.4 L16.4 36.2 L16.4 37.8 L4 32Z" fill="#84dc50"/><path d="M6 32 L14 35.7 L14 39 L6 35.3Z" fill="#a8c4f0"/><rect x="15.1" y="5.3" width="4.9" height="8" rx="1.6" fill="#86d85a"/><rect x="16" y="6" width="1.4" height="6.5" fill="#b8f090"/><path d="M23.5 30.6 L36.4 37.3 L36.4 51 L24.8 44.8Z" fill="#a6aab2"/><path d="M25 33.5 L35 38.8 L35 42.5 L25 37.2Z" fill="#9cc0ee"/><path d="M26.5 40.5 L33.5 44 L33.5 47.5 L26.5 44Z" fill="#3e4046"/><path d="M36.4 37.3 L46.6 32.4 L46.6 45.3 L36.4 51Z" fill="#74787f"/><path d="M36.4 37.3 L46.6 32.4 L46.6 38.5 L36.4 43.4Z" fill="#8cb6ea"/><path d="M37.5 39 L39 38.3 L39 41 L37.5 41.7Z M40.5 37.5 L42 36.8 L42 39.5 L40.5 40.2Z M43.5 36 L45 35.3 L45 38 L43.5 38.7Z" fill="#eef4ff"/><path d="M23.5 30.6 L29.3 26.6 L46.6 32.4 L36.4 37.3Z" fill="#e2e5ea"/><path d="M23.5 30.6 L29.3 26.6 L46.6 32.4 L45 33.2 L29.3 28 L25 31.2Z" fill="#7ea8e0"/><path d="M13.3 41 L24 46 L24 48 L13.3 43Z" fill="#86dc52"/><path d="M15 38.5 L22 41.8 L22 46 L15 42.7Z" fill="#7cd44a"/></g><text class="lbl" x="504.4" y="568" text-anchor="middle">A栋</text><text class="s g" x="496" y="370.5" font-size="9.5">I</text><text class="s g" x="508.5" y="370.5" font-size="9.5">18.0</text><text class="s o" x="496" y="384.7" font-size="9.5">P</text><text class="s o" x="508.5" y="384.7" font-size="9.5">10.2</text><path class="ln" d="M615 351.5 L615 491.0"/><rect class="brk" x="609.2" y="397.8" width="10.7" height="18.3"/><g transform="translate(598,485.0)"><path d="M34 24 L44.7 18.4 L44.7 31 L34 36.5Z" fill="#6c9ee2"/><path d="M26 14 L32 11 L44.7 18.4 L34 24Z" fill="#dfe4ec"/><path d="M34 24 L44.7 18.4 L44.7 19.6 L34 25.2Z" fill="#a8c8f0"/><rect x="36.3" y="25.5" width="1.7" height="2.8" fill="#f0f4ff"/><rect x="39.5" y="23.8" width="1.7" height="2.8" fill="#f0f4ff"/><rect x="42.3" y="22.3" width="1.7" height="2.8" fill="#f0f4ff"/><rect x="36.3" y="30" width="1.7" height="2.8" fill="#f0f4ff"/><rect x="39.5" y="28.3" width="1.7" height="2.8" fill="#f0f4ff"/><rect x="42.3" y="26.8" width="1.7" height="2.8" fill="#f0f4ff"/><path d="M4.9 15.5 L23.5 24 L23.5 44 L5.3 37Z" fill="#bcd6f6"/><path d="M23.5 24 L34.6 18.2 L34.6 30 L23.5 36Z" fill="#90b6e6"/><path d="M4.9 15.5 L14.2 9.8 L34.6 18.2 L23.5 24Z" fill="#dfe3ea"/><path d="M4.9 15.5 L23.5 24 L34.6 18.2 L34.6 19.6 L23.5 25.6 L4.9 17.2Z" fill="#7ed24e"/><path d="M11 15 L13 14 L22 18 L20 19Z" fill="#8a9099"/><path d="M18 11 L22 9.5 L26 11.5 L26 15 L22 16.5 L18 14.5Z" fill="#b8d0f0"/><rect x="7.0" y="19.5" width="2" height="2.4" fill="#eaf2ff"/><rect x="11.2" y="21.4" width="2" height="2.4" fill="#eaf2ff"/><rect x="15.4" y="23.3" width="2" height="2.4" fill="#eaf2ff"/><rect x="19.6" y="25.2" width="2" height="2.4" fill="#eaf2ff"/><rect x="7.0" y="23.7" width="2" height="2.4" fill="#eaf2ff"/><rect x="11.2" y="25.6" width="2" height="2.4" fill="#eaf2ff"/><rect x="15.4" y="27.5" width="2" height="2.4" fill="#eaf2ff"/><rect x="19.6" y="29.4" width="2" height="2.4" fill="#eaf2ff"/><rect x="7.0" y="27.9" width="2" height="2.4" fill="#eaf2ff"/><rect x="11.2" y="29.8" width="2" height="2.4" fill="#eaf2ff"/><rect x="15.4" y="31.7" width="2" height="2.4" fill="#eaf2ff"/><rect x="19.6" y="33.6" width="2" height="2.4" fill="#eaf2ff"/><path d="M4 30.4 L16.4 36.2 L16.4 37.8 L4 32Z" fill="#84dc50"/><path d="M6 32 L14 35.7 L14 39 L6 35.3Z" fill="#a8c4f0"/><rect x="15.1" y="5.3" width="4.9" height="8" rx="1.6" fill="#86d85a"/><rect x="16" y="6" width="1.4" height="6.5" fill="#b8f090"/><path d="M23.5 30.6 L36.4 37.3 L36.4 51 L24.8 44.8Z" fill="#a6aab2"/><path d="M25 33.5 L35 38.8 L35 42.5 L25 37.2Z" fill="#9cc0ee"/><path d="M26.5 40.5 L33.5 44 L33.5 47.5 L26.5 44Z" fill="#3e4046"/><path d="M36.4 37.3 L46.6 32.4 L46.6 45.3 L36.4 51Z" fill="#74787f"/><path d="M36.4 37.3 L46.6 32.4 L46.6 38.5 L36.4 43.4Z" fill="#8cb6ea"/><path d="M37.5 39 L39 38.3 L39 41 L37.5 41.7Z M40.5 37.5 L42 36.8 L42 39.5 L40.5 40.2Z M43.5 36 L45 35.3 L45 38 L43.5 38.7Z" fill="#eef4ff"/><path d="M23.5 30.6 L29.3 26.6 L46.6 32.4 L36.4 37.3Z" fill="#e2e5ea"/><path d="M23.5 30.6 L29.3 26.6 L46.6 32.4 L45 33.2 L29.3 28 L25 31.2Z" fill="#7ea8e0"/><path d="M13.3 41 L24 46 L24 48 L13.3 43Z" fill="#86dc52"/><path d="M15 38.5 L22 41.8 L22 46 L15 42.7Z" fill="#7cd44a"/></g><text class="lbl" x="623.8" y="568" text-anchor="middle">B栋</text><text class="s g" x="619.2" y="369" font-size="9.5">I</text><text class="s g" x="631.7" y="369" font-size="9.5">237.1</text><text class="s o" x="619.2" y="383.2" font-size="9.5">P</text><text class="s o" x="631.7" y="383.2" font-size="9.5">26.0</text><path class="ln" d="M738.5 351.5 L738.5 491.7"/><rect class="brk" x="732.7" y="396.3" width="10.7" height="18.3"/><g transform="translate(721.5,485.7)"><path d="M34 24 L44.7 18.4 L44.7 31 L34 36.5Z" fill="#6c9ee2"/><path d="M26 14 L32 11 L44.7 18.4 L34 24Z" fill="#dfe4ec"/><path d="M34 24 L44.7 18.4 L44.7 19.6 L34 25.2Z" fill="#a8c8f0"/><rect x="36.3" y="25.5" width="1.7" height="2.8" fill="#f0f4ff"/><rect x="39.5" y="23.8" width="1.7" height="2.8" fill="#f0f4ff"/><rect x="42.3" y="22.3" width="1.7" height="2.8" fill="#f0f4ff"/><rect x="36.3" y="30" width="1.7" height="2.8" fill="#f0f4ff"/><rect x="39.5" y="28.3" width="1.7" height="2.8" fill="#f0f4ff"/><rect x="42.3" y="26.8" width="1.7" height="2.8" fill="#f0f4ff"/><path d="M4.9 15.5 L23.5 24 L23.5 44 L5.3 37Z" fill="#bcd6f6"/><path d="M23.5 24 L34.6 18.2 L34.6 30 L23.5 36Z" fill="#90b6e6"/><path d="M4.9 15.5 L14.2 9.8 L34.6 18.2 L23.5 24Z" fill="#dfe3ea"/><path d="M4.9 15.5 L23.5 24 L34.6 18.2 L34.6 19.6 L23.5 25.6 L4.9 17.2Z" fill="#7ed24e"/><path d="M11 15 L13 14 L22 18 L20 19Z" fill="#8a9099"/><path d="M18 11 L22 9.5 L26 11.5 L26 15 L22 16.5 L18 14.5Z" fill="#b8d0f0"/><rect x="7.0" y="19.5" width="2" height="2.4" fill="#eaf2ff"/><rect x="11.2" y="21.4" width="2" height="2.4" fill="#eaf2ff"/><rect x="15.4" y="23.3" width="2" height="2.4" fill="#eaf2ff"/><rect x="19.6" y="25.2" width="2" height="2.4" fill="#eaf2ff"/><rect x="7.0" y="23.7" width="2" height="2.4" fill="#eaf2ff"/><rect x="11.2" y="25.6" width="2" height="2.4" fill="#eaf2ff"/><rect x="15.4" y="27.5" width="2" height="2.4" fill="#eaf2ff"/><rect x="19.6" y="29.4" width="2" height="2.4" fill="#eaf2ff"/><rect x="7.0" y="27.9" width="2" height="2.4" fill="#eaf2ff"/><rect x="11.2" y="29.8" width="2" height="2.4" fill="#eaf2ff"/><rect x="15.4" y="31.7" width="2" height="2.4" fill="#eaf2ff"/><rect x="19.6" y="33.6" width="2" height="2.4" fill="#eaf2ff"/><path d="M4 30.4 L16.4 36.2 L16.4 37.8 L4 32Z" fill="#84dc50"/><path d="M6 32 L14 35.7 L14 39 L6 35.3Z" fill="#a8c4f0"/><rect x="15.1" y="5.3" width="4.9" height="8" rx="1.6" fill="#86d85a"/><rect x="16" y="6" width="1.4" height="6.5" fill="#b8f090"/><path d="M23.5 30.6 L36.4 37.3 L36.4 51 L24.8 44.8Z" fill="#a6aab2"/><path d="M25 33.5 L35 38.8 L35 42.5 L25 37.2Z" fill="#9cc0ee"/><path d="M26.5 40.5 L33.5 44 L33.5 47.5 L26.5 44Z" fill="#3e4046"/><path d="M36.4 37.3 L46.6 32.4 L46.6 45.3 L36.4 51Z" fill="#74787f"/><path d="M36.4 37.3 L46.6 32.4 L46.6 38.5 L36.4 43.4Z" fill="#8cb6ea"/><path d="M37.5 39 L39 38.3 L39 41 L37.5 41.7Z M40.5 37.5 L42 36.8 L42 39.5 L40.5 40.2Z M43.5 36 L45 35.3 L45 38 L43.5 38.7Z" fill="#eef4ff"/><path d="M23.5 30.6 L29.3 26.6 L46.6 32.4 L36.4 37.3Z" fill="#e2e5ea"/><path d="M23.5 30.6 L29.3 26.6 L46.6 32.4 L45 33.2 L29.3 28 L25 31.2Z" fill="#7ea8e0"/><path d="M13.3 41 L24 46 L24 48 L13.3 43Z" fill="#86dc52"/><path d="M15 38.5 L22 41.8 L22 46 L15 42.7Z" fill="#7cd44a"/></g><text class="lbl" x="745" y="568" text-anchor="middle">C栋</text><path class="ln" d="M862.5 351.5 L862.5 489.7"/><rect class="brk" x="856.7" y="396.3" width="10.7" height="18.3"/><g transform="translate(845.5,483.7)"><path d="M34 24 L44.7 18.4 L44.7 31 L34 36.5Z" fill="#6c9ee2"/><path d="M26 14 L32 11 L44.7 18.4 L34 24Z" fill="#dfe4ec"/><path d="M34 24 L44.7 18.4 L44.7 19.6 L34 25.2Z" fill="#a8c8f0"/><rect x="36.3" y="25.5" width="1.7" height="2.8" fill="#f0f4ff"/><rect x="39.5" y="23.8" width="1.7" height="2.8" fill="#f0f4ff"/><rect x="42.3" y="22.3" width="1.7" height="2.8" fill="#f0f4ff"/><rect x="36.3" y="30" width="1.7" height="2.8" fill="#f0f4ff"/><rect x="39.5" y="28.3" width="1.7" height="2.8" fill="#f0f4ff"/><rect x="42.3" y="26.8" width="1.7" height="2.8" fill="#f0f4ff"/><path d="M4.9 15.5 L23.5 24 L23.5 44 L5.3 37Z" fill="#bcd6f6"/><path d="M23.5 24 L34.6 18.2 L34.6 30 L23.5 36Z" fill="#90b6e6"/><path d="M4.9 15.5 L14.2 9.8 L34.6 18.2 L23.5 24Z" fill="#dfe3ea"/><path d="M4.9 15.5 L23.5 24 L34.6 18.2 L34.6 19.6 L23.5 25.6 L4.9 17.2Z" fill="#7ed24e"/><path d="M11 15 L13 14 L22 18 L20 19Z" fill="#8a9099"/><path d="M18 11 L22 9.5 L26 11.5 L26 15 L22 16.5 L18 14.5Z" fill="#b8d0f0"/><rect x="7.0" y="19.5" width="2" height="2.4" fill="#eaf2ff"/><rect x="11.2" y="21.4" width="2" height="2.4" fill="#eaf2ff"/><rect x="15.4" y="23.3" width="2" height="2.4" fill="#eaf2ff"/><rect x="19.6" y="25.2" width="2" height="2.4" fill="#eaf2ff"/><rect x="7.0" y="23.7" width="2" height="2.4" fill="#eaf2ff"/><rect x="11.2" y="25.6" width="2" height="2.4" fill="#eaf2ff"/><rect x="15.4" y="27.5" width="2" height="2.4" fill="#eaf2ff"/><rect x="19.6" y="29.4" width="2" height="2.4" fill="#eaf2ff"/><rect x="7.0" y="27.9" width="2" height="2.4" fill="#eaf2ff"/><rect x="11.2" y="29.8" width="2" height="2.4" fill="#eaf2ff"/><rect x="15.4" y="31.7" width="2" height="2.4" fill="#eaf2ff"/><rect x="19.6" y="33.6" width="2" height="2.4" fill="#eaf2ff"/><path d="M4 30.4 L16.4 36.2 L16.4 37.8 L4 32Z" fill="#84dc50"/><path d="M6 32 L14 35.7 L14 39 L6 35.3Z" fill="#a8c4f0"/><rect x="15.1" y="5.3" width="4.9" height="8" rx="1.6" fill="#86d85a"/><rect x="16" y="6" width="1.4" height="6.5" fill="#b8f090"/><path d="M23.5 30.6 L36.4 37.3 L36.4 51 L24.8 44.8Z" fill="#a6aab2"/><path d="M25 33.5 L35 38.8 L35 42.5 L25 37.2Z" fill="#9cc0ee"/><path d="M26.5 40.5 L33.5 44 L33.5 47.5 L26.5 44Z" fill="#3e4046"/><path d="M36.4 37.3 L46.6 32.4 L46.6 45.3 L36.4 51Z" fill="#74787f"/><path d="M36.4 37.3 L46.6 32.4 L46.6 38.5 L36.4 43.4Z" fill="#8cb6ea"/><path d="M37.5 39 L39 38.3 L39 41 L37.5 41.7Z M40.5 37.5 L42 36.8 L42 39.5 L40.5 40.2Z M43.5 36 L45 35.3 L45 38 L43.5 38.7Z" fill="#eef4ff"/><path d="M23.5 30.6 L29.3 26.6 L46.6 32.4 L36.4 37.3Z" fill="#e2e5ea"/><path d="M23.5 30.6 L29.3 26.6 L46.6 32.4 L45 33.2 L29.3 28 L25 31.2Z" fill="#7ea8e0"/><path d="M13.3 41 L24 46 L24 48 L13.3 43Z" fill="#86dc52"/><path d="M15 38.5 L22 41.8 L22 46 L15 42.7Z" fill="#7cd44a"/></g><text class="lbl" x="875.2" y="568" text-anchor="middle">D栋</text><text class="s g" x="865.7" y="368.3" font-size="9.5">I</text><text class="s g" x="878.2" y="368.3" font-size="9.5">26.3</text><text class="s o" x="865.7" y="382.6" font-size="9.5">P</text><text class="s o" x="878.2" y="382.6" font-size="9.5">24.5</text>
<path class="ln" d="M1047.5 310 L1047.5 421"/><rect class="brk" x="1042" y="320" width="10.5" height="17.5"/><g><path d="M1060.3 420.3 L1093 428.3 L1093 549.5 L1060.3 555Z" fill="#e4e5e9"/><path d="M1064 425 L1064 552" stroke="#f2f3f5" stroke-width="1"/><path d="M1002 424.7 L1060.3 420.3 L1060.3 555 L1002 550Z" fill="#f3f4f6"/><path d="M1028.9 422.6 L1028.9 552.5" stroke="#c9cbd0" stroke-width="0.8"/><path d="M1058.6 420.6 L1058.6 554.8" stroke="#b8bbc2" stroke-width="1.2"/><path d="M1002 550 L1060.3 555 L1093 549.5 L1093 553 L1060.3 558.3 L1002 553.5Z" fill="#26262c"/><rect x="1005.9" y="436.8" width="19.3" height="4.3" fill="#e23232"/><rect x="1012" y="438.3" width="8" height="1.2" fill="#f6c8c8"/><rect x="1059" y="430.7" width="1.6" height="6" fill="#3cc040"/><rect x="1059.3" y="440.0" width="1" height="1" fill="#8a8c92"/><rect x="1059.3" y="443.2" width="1" height="1" fill="#8a8c92"/><rect x="1059.3" y="446.4" width="1" height="1" fill="#8a8c92"/><rect x="1059.3" y="449.6" width="1" height="1" fill="#8a8c92"/><rect x="1059.3" y="452.8" width="1" height="1" fill="#8a8c92"/><rect x="1059.3" y="456.0" width="1" height="1" fill="#8a8c92"/><rect x="1059.3" y="459.2" width="1" height="1" fill="#8a8c92"/><rect x="1059.3" y="462.4" width="1" height="1" fill="#8a8c92"/><circle cx="1008.5" cy="453.8" r="0.95" fill="#d8d8c0"/><circle cx="1011.2" cy="453.8" r="0.95" fill="#e0d060"/><circle cx="1013.9" cy="453.8" r="0.95" fill="#70c060"/><circle cx="1016.6" cy="453.8" r="0.95" fill="#e0a040"/><circle cx="1019.3" cy="453.8" r="0.95" fill="#e05040"/><circle cx="1022.0" cy="453.8" r="0.95" fill="#c8c8c8"/><rect x="1007.1" y="463.4" width="16.4" height="35" fill="#dcdde1"/><rect x="1007.1" y="463.4" width="16.4" height="1.2" fill="#8c8e96"/><rect x="1007.1" y="466.3" width="16.4" height="1.2" fill="#8c8e96"/><rect x="1007.1" y="469.2" width="16.4" height="1.2" fill="#8c8e96"/><rect x="1007.1" y="472.1" width="16.4" height="1.2" fill="#8c8e96"/><rect x="1007.1" y="475.0" width="16.4" height="1.2" fill="#8c8e96"/><rect x="1007.1" y="477.9" width="16.4" height="1.2" fill="#8c8e96"/><rect x="1007.1" y="480.8" width="16.4" height="1.2" fill="#8c8e96"/><rect x="1007.1" y="483.7" width="16.4" height="1.2" fill="#8c8e96"/><rect x="1007.1" y="486.6" width="16.4" height="1.2" fill="#8c8e96"/><rect x="1007.1" y="489.5" width="16.4" height="1.2" fill="#8c8e96"/><rect x="1007.1" y="492.4" width="16.4" height="1.2" fill="#8c8e96"/><rect x="1007.1" y="495.3" width="16.4" height="1.2" fill="#8c8e96"/><rect x="1035.6" y="462.2" width="18.7" height="37.5" fill="#dcdde1"/><rect x="1035.6" y="462.2" width="18.7" height="1.2" fill="#8c8e96"/><rect x="1035.6" y="465.1" width="18.7" height="1.2" fill="#8c8e96"/><rect x="1035.6" y="468.0" width="18.7" height="1.2" fill="#8c8e96"/><rect x="1035.6" y="470.9" width="18.7" height="1.2" fill="#8c8e96"/><rect x="1035.6" y="473.8" width="18.7" height="1.2" fill="#8c8e96"/><rect x="1035.6" y="476.7" width="18.7" height="1.2" fill="#8c8e96"/><rect x="1035.6" y="479.6" width="18.7" height="1.2" fill="#8c8e96"/><rect x="1035.6" y="482.5" width="18.7" height="1.2" fill="#8c8e96"/><rect x="1035.6" y="485.4" width="18.7" height="1.2" fill="#8c8e96"/><rect x="1035.6" y="488.3" width="18.7" height="1.2" fill="#8c8e96"/><rect x="1035.6" y="491.2" width="18.7" height="1.2" fill="#8c8e96"/><rect x="1035.6" y="494.1" width="18.7" height="1.2" fill="#8c8e96"/><rect x="1035.6" y="497.0" width="18.7" height="1.2" fill="#8c8e96"/><rect x="1007.1" y="509.4" width="16.4" height="13.3" fill="#dcdde1"/><rect x="1007.1" y="509.4" width="16.4" height="1.2" fill="#8c8e96"/><rect x="1007.1" y="512.3" width="16.4" height="1.2" fill="#8c8e96"/><rect x="1007.1" y="515.2" width="16.4" height="1.2" fill="#8c8e96"/><rect x="1007.1" y="518.1" width="16.4" height="1.2" fill="#8c8e96"/><rect x="1007.1" y="521.0" width="16.4" height="1.2" fill="#8c8e96"/><rect x="1035.6" y="509.4" width="18.7" height="15.6" fill="#dcdde1"/><rect x="1035.6" y="509.4" width="18.7" height="1.2" fill="#8c8e96"/><rect x="1035.6" y="512.3" width="18.7" height="1.2" fill="#8c8e96"/><rect x="1035.6" y="515.2" width="18.7" height="1.2" fill="#8c8e96"/><rect x="1035.6" y="518.1" width="18.7" height="1.2" fill="#8c8e96"/><rect x="1035.6" y="521.0" width="18.7" height="1.2" fill="#8c8e96"/><rect x="1026.6" y="476.7" width="1.2" height="9.5" fill="#6a6c72"/><rect x="1031" y="476.7" width="1.2" height="9.5" fill="#6a6c72"/></g><text class="lbl" x="1043.7" y="574" text-anchor="middle">储能一体柜</text>
</svg>
</body></html>
